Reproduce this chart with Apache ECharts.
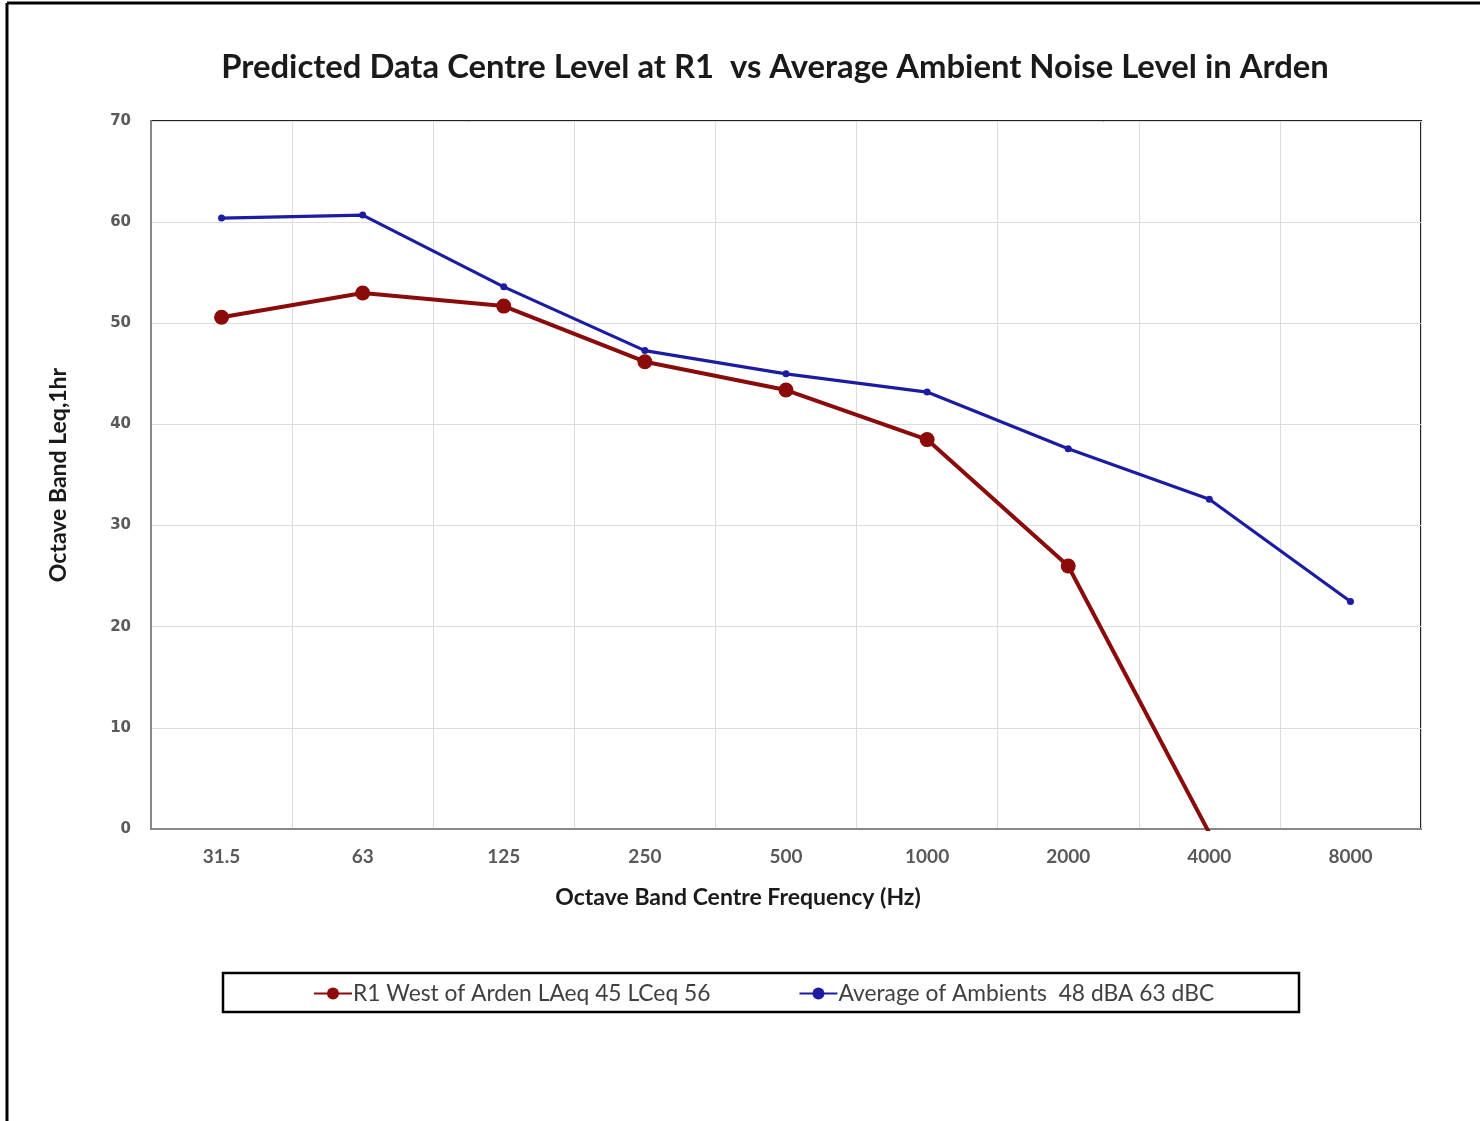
<!DOCTYPE html>
<html>
<head>
<meta charset="utf-8">
<script src="https://cdn.jsdelivr.net/npm/echarts@6/dist/echarts.min.js"></script>
<style>
html,body{margin:0;padding:0;background:#fff;}
#main{width:1480px;height:1121px;}
</style>
</head>
<body>
<div id="main"></div>
<script>
const categories = ['31.5', '63', '125', '250', '500', '1000', '2000', '4000', '8000'];
const r1West = [50.6, 53.0, 51.7, 46.2, 43.4, 38.5, 26.0, -0.4, null];
const ambientAvg = [60.4, 60.7, 53.6, 47.3, 45.0, 43.2, 37.6, 32.6, 22.5];
const yTicks = { min: 0, max: 70, interval: 10 };
const seriesNames = ['R1 West of Arden LAeq 45 LCeq 56', 'Average of Ambients  48 dBA 63 dBC'];

const chart = echarts.init(document.getElementById('main'), null, { renderer: 'canvas' });
const font = 'Lato, "Open Sans", sans-serif';
chart.setOption({
  backgroundColor: '#ffffff',
  animation: false,
  title: {
    text: 'Predicted Data Centre Level at R1  vs Average Ambient Noise Level in Arden',
    left: 770, textAlign: 'center', top: 46,
    textStyle: { fontFamily: font, fontWeight: 'bold', fontSize: 32.8, color: '#1a1a1a' }
  },
  graphic: [
    { type: 'line', shape: { x1: 7, y1: 3, x2: 1480, y2: 3 }, style: { stroke: '#000', lineWidth: 3 } },
    { type: 'line', shape: { x1: 7, y1: 3, x2: 7, y2: 1121 }, style: { stroke: '#000', lineWidth: 3 } },
    { type: 'rect', shape: { x: 223, y: 973, width: 1076, height: 39 }, style: { fill: 'none', stroke: '#000', lineWidth: 2.5 } }
  ],
  legend: {
    left: 308, top: 977,
    itemGap: 88, itemWidth: 38, itemHeight: 15,
    textStyle: { fontFamily: font, fontSize: 22.8, color: '#404040', padding: [0, 0, 0, -4] },
    data: seriesNames
  },
  grid: { left: 151, right: 59, top: 121, bottom: 292, show: true, borderColor: '#222', borderWidth: 2 },
  xAxis: {
    type: 'category', data: categories, boundaryGap: true,
    name: 'Octave Band Centre Frequency (Hz)', nameLocation: 'middle', nameGap: 57,
    nameTextStyle: { fontFamily: font, fontWeight: 'bold', fontSize: 23, color: '#1a1a1a', padding: [0, 96, 0, 0] },
    axisLine: { lineStyle: { color: '#888', width: 2 } },
    axisTick: { show: false },
    axisLabel: { fontFamily: font, fontWeight: 'bold', fontSize: 19, color: '#595959', margin: 18 },
    splitLine: { show: true, lineStyle: { color: '#dcdcdc', width: 1 } }
  },
  yAxis: {
    type: 'value', min: yTicks.min, max: yTicks.max, interval: yTicks.interval,
    name: 'Octave Band Leq,1hr', nameLocation: 'middle', nameGap: 81,
    nameTextStyle: { fontFamily: font, fontWeight: 'bold', fontSize: 23, color: '#1a1a1a' },
    axisLine: { show: true, lineStyle: { color: '#888', width: 2 } },
    axisTick: { show: false },
    axisLabel: { fontFamily: '"DejaVu Sans", sans-serif', fontWeight: 'bold', fontSize: 15, color: '#595959', margin: 20 },
    splitLine: { show: true, lineStyle: { color: '#dcdcdc', width: 1 } }
  },
  series: [
    {
      name: seriesNames[0], type: 'line', data: r1West, clip: true,
      symbol: 'circle', symbolSize: 15, showAllSymbol: true,
      lineStyle: { color: '#8B0A0A', width: 4 },
      itemStyle: { color: '#8B0A0A' }, z: 3
    },
    {
      name: seriesNames[1], type: 'line', data: ambientAvg, clip: true,
      symbol: 'circle', symbolSize: 7, showAllSymbol: true,
      lineStyle: { color: '#1C1CA3', width: 3.2 },
      itemStyle: { color: '#1C1CA3' }, z: 2
    }
  ]
});
</script>
</body>
</html>
